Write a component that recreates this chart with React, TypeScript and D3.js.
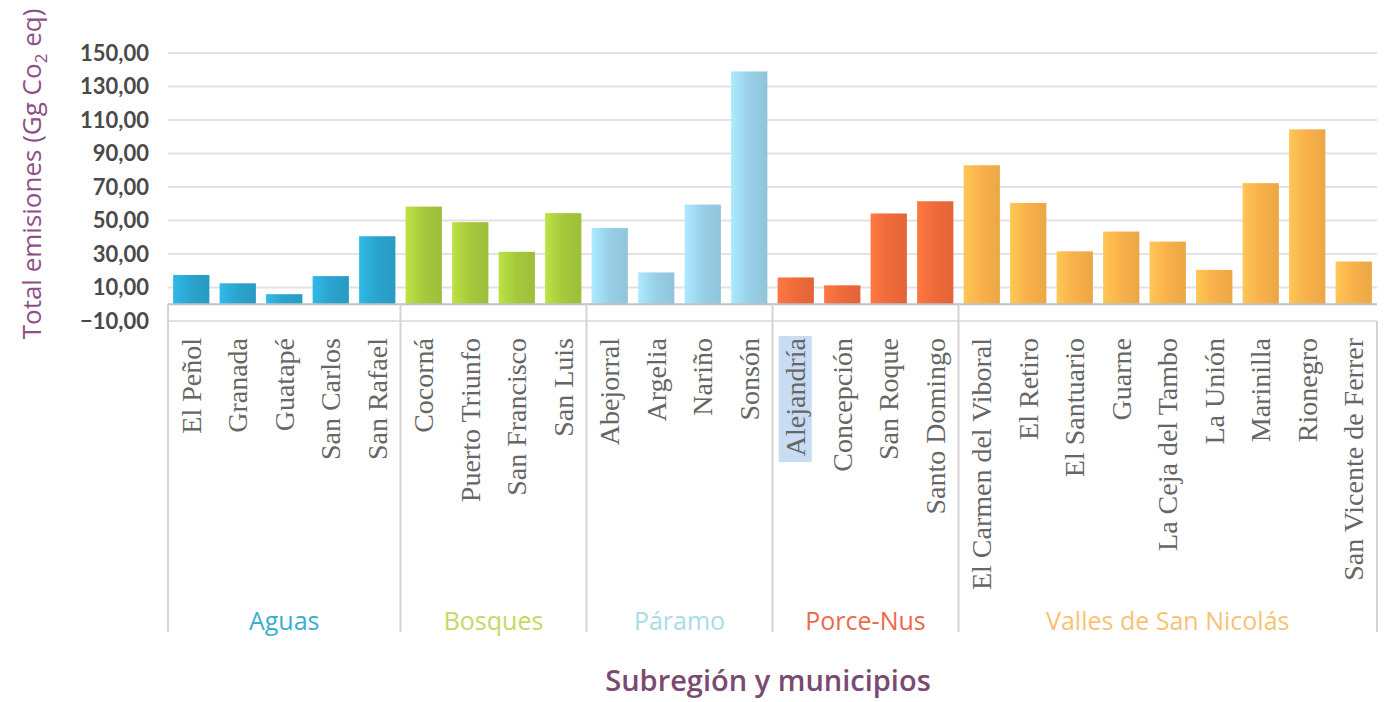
import React from "react";
import * as d3 from "d3";

const groups = ["Aguas", "Bosques", "Páramo", "Porce-Nus", "Valles de San Nicolás"];
const groupBarColors = ["#2aa3cd", "#a6c83c", "#98cfe6", "#ee6a3a", "#f8b04a"];
const groupLabelColors = ["#3aaed0", "#c6d764", "#aadbe8", "#ec6a4c", "#f8c274"];

const municipios = [
  "El Peñol", "Granada", "Guatapé", "San Carlos", "San Rafael",
  "Cocorná", "Puerto Triunfo", "San Francisco", "San Luis",
  "Abejorral", "Argelia", "Nariño", "Sonsón",
  "Alejandría", "Concepción", "San Roque", "Santo Domingo",
  "El Carmen del Viboral", "El Retiro", "El Santuario", "Guarne", "La Ceja del Tambo",
  "La Unión", "Marinilla", "Rionegro", "San Vicente de Ferrer",
];
const municipioGrupo = [
  0, 0, 0, 0, 0,
  1, 1, 1, 1,
  2, 2, 2, 2,
  3, 3, 3, 3,
  4, 4, 4, 4, 4, 4, 4, 4, 4,
];
const emisiones = [
  17.5, 12.5, 6, 16.8, 40.6,
  58.3, 49, 31.3, 54.4,
  45.5, 19, 59.5, 139,
  16, 11.3, 54.2, 61.5,
  83, 60.5, 31.6, 43.4, 37.4,
  20.5, 72.3, 104.4, 25.5,
];
const yTicks = [150, 130, 110, 90, 70, 50, 30, 10, -10];

const W = 1385;
const H = 702;
const left = 168;
const right = 1377;
const tableBottom = 632;

export default function App() {
  const x = d3
    .scaleBand<string>()
    .domain(municipios)
    .range([left, right])
    .paddingInner(0.22)
    .paddingOuter(0.11);
  const y = d3.scaleLinear().domain([-10, 150]).range([321, 53]);
  const step = x.step();
  const fmt = (v: number) => d3.format(".2f")(v).replace(".", ",");

  const groupBounds = groups.map((g, gi) => {
    const idx = municipios.map((_, i) => i).filter((i) => municipioGrupo[i] === gi);
    const x0 = left + idx[0] * step;
    const x1 = left + (idx[idx.length - 1] + 1) * step;
    return { g, gi, x0, x1 };
  });

  return (
    <svg
      width={W}
      height={H}
      style={{ position: "absolute", left: 0, top: 0, background: "#fff" }}
    >
      <defs>
        {groupBarColors.map((c, i) => {
          const light = d3.color(c)!.brighter(0.35).formatHex();
          const dark = d3.color(c)!.darker(0.15).formatHex();
          return (
            <linearGradient key={i} id={`grad${i}`} x1="0" x2="1" y1="0" y2="0">
              <stop offset="0%" stopColor={light} />
              <stop offset="50%" stopColor={c} />
              <stop offset="100%" stopColor={dark} />
            </linearGradient>
          );
        })}
      </defs>

      {yTicks.map((t) => (
        <line
          key={t}
          x1={left}
          x2={right}
          y1={y(t)}
          y2={y(t)}
          stroke="#e2e2e2"
          strokeWidth={2}
        />
      ))}

      {yTicks.map((t) => (
        <text
          key={"l" + t}
          x={149}
          y={y(t)}
          dy="0.35em"
          textAnchor="end"
          fontFamily="Lato, 'Open Sans', sans-serif"
          fontWeight={700}
          fontSize={22}
          fill="#4a4a4a"
        >
          {fmt(t)}
        </text>
      ))}

      {municipios.map((m, i) => {
        const v = emisiones[i];
        const y0 = y(0);
        const y1 = y(v);
        return (
          <rect
            key={m}
            x={x(m)}
            y={Math.min(y0, y1)}
            width={x.bandwidth()}
            height={Math.abs(y0 - y1)}
            fill={`url(#grad${municipioGrupo[i]})`}
          />
        );
      })}

      <line x1={left} x2={right} y1={y(0)} y2={y(0)} stroke="#b8c4c8" strokeWidth={2} />

      {groupBounds.map((b) => (
        <line
          key={"s" + b.gi}
          x1={b.x0}
          x2={b.x0}
          y1={y(0)}
          y2={tableBottom}
          stroke="#d4d4d4"
          strokeWidth={2}
        />
      ))}
      <line x1={right} x2={right} y1={y(-10)} y2={tableBottom} stroke="#d4d4d4" strokeWidth={2} />

      {(() => {
        const cx = (x("Alejandría") as number) + x.bandwidth() / 2;
        return <rect x={cx - 17} y={336} width={33} height={126} fill="#c8dcf4" />;
      })()}

      {municipios.map((m) => {
        const cx = (x(m) as number) + x.bandwidth() / 2;
        return (
          <text
            key={"c" + m}
            transform={`translate(${cx},338) rotate(-90)`}
            textAnchor="end"
            dy="0.33em"
            fontFamily="'Liberation Serif', 'DejaVu Serif', serif"
            fontSize={28}
            fill="#666"
          >
            {m}
          </text>
        );
      })}

      {groupBounds.map((b) => (
        <text
          key={"g" + b.gi}
          x={(b.x0 + b.x1) / 2}
          y={621}
          dy="0.35em"
          textAnchor="middle"
          fontFamily="'Open Sans', sans-serif"
          fontSize={25}
          fill={groupLabelColors[b.gi]}
        >
          {b.g}
        </text>
      ))}

      <text
        transform={`translate(32,174) rotate(-90)`}
        textAnchor="middle"
        dy="0.35em"
        fontFamily="'Open Sans', sans-serif"
        fontSize={26}
        fill="#8e4f86"
      >
        Total emisiones (Gg Co
        <tspan fontSize={17} dy="6">2</tspan>
        <tspan dy="-6"> eq)</tspan>
      </text>

      <text
        x={768}
        y={681}
        dy="0.35em"
        textAnchor="middle"
        fontFamily="'Open Sans', sans-serif"
        fontWeight={600}
        fontSize={29}
        fill="#7a4a72"
      >
        Subregión y municipios
      </text>
    </svg>
  );
}
